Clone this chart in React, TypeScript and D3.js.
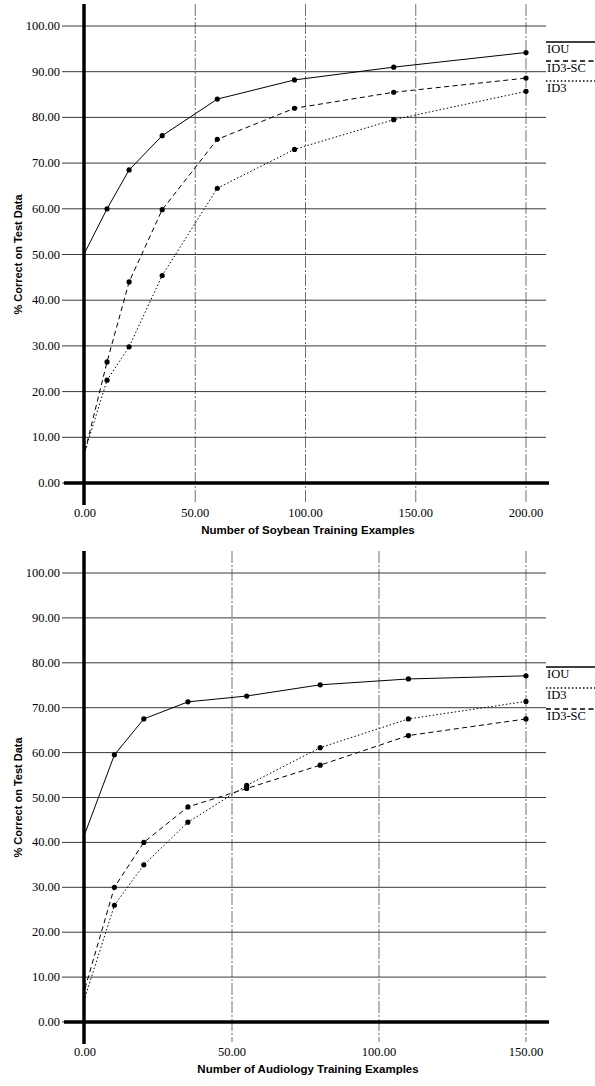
import React from 'react';
import * as d3 from 'd3';

// Soybean (top chart)
const soyX = [0, 10, 20, 35, 60, 95, 140, 200];
const soyIOU = [50.5, 60, 68.5, 76, 84, 88.2, 91, 94.2];
const soyID3SC = [7, 26.5, 44, 59.8, 75.2, 82, 85.5, 88.6];
const soyID3 = [7, 22.5, 29.8, 45.4, 64.5, 73, 79.5, 85.7];
const soyXTicks = [0, 50, 100, 150, 200];

// Audiology (bottom chart)
const audX = [0, 10, 20, 35, 55, 80, 110, 150];
const audIOU = [42, 59.5, 67.5, 71.3, 72.6, 75.1, 76.4, 77.1];
const audID3 = [5.5, 26, 35, 44.5, 52.7, 61.1, 67.5, 71.4];
const audID3SC = [7.5, 30, 40, 47.9, 52, 57.2, 63.8, 67.5];
const audXTicks = [0, 50, 100, 150];

const yTicks = [0, 10, 20, 30, 40, 50, 60, 70, 80, 90, 100];

const styles: Record<string, string | undefined> = {
  IOU: undefined,
  'ID3-SC': '5,3.5',
  ID3: '1.5,2.2',
};

type Series = { name: string; values: number[] };

function Chart({ xs, series, xMax, xTicks, top, bottom, xTitle, legend }: {
  xs: number[]; series: Series[]; xMax: number; xTicks: number[];
  top: number; bottom: number; xTitle: string; legend: { name: string; y: number }[];
}) {
  const x = d3.scaleLinear().domain([0, xMax]).range([85, 526]);
  const y = d3.scaleLinear().domain([0, 100]).range([bottom, top]);
  const line = d3.line<number>().x((_, i) => x(xs[i])).y(d => y(d));
  const serif = '"Liberation Serif", "Times New Roman", serif';
  const sans = '"Liberation Sans", Arial, sans-serif';

  return (
    <g>
      {/* horizontal grid */}
      {yTicks.map(t => (
        <g key={t}>
          <line x1={62} x2={546} y1={y(t)} y2={y(t)} stroke="#222" strokeWidth={0.9} />
          <text x={60} y={y(t) + 4} textAnchor="end" fontFamily={serif} fontSize={12.5}>{t.toFixed(2)}</text>
        </g>
      ))}
      {/* vertical grid */}
      {xTicks.map(t => (
        <g key={t}>
          {t > 0 && <line x1={x(t)} x2={x(t)} y1={top - 22} y2={bottom + 20} stroke="#333" strokeWidth={0.7} strokeDasharray="12,2,2,2" />}
          <text x={x(t)} y={bottom + 34} textAnchor="middle" fontFamily={serif} fontSize={12.5}>{t.toFixed(2)}</text>
        </g>
      ))}
      {/* axes */}
      <line x1={84} x2={84} y1={top - 22} y2={bottom + 22} stroke="#000" strokeWidth={3.5} />
      <line x1={64} x2={549} y1={bottom} y2={bottom} stroke="#000" strokeWidth={3.5} />

      {series.map(s => (
        <g key={s.name}>
          <path d={line(s.values) ?? ''} fill="none" stroke="#000" strokeWidth={1} strokeDasharray={styles[s.name]} />
          {s.values.slice(1).map((v, i) => (
            <circle key={i} cx={x(xs[i + 1])} cy={y(v)} r={2.6} fill="#000" />
          ))}
        </g>
      ))}

      {/* legend */}
      {legend.map(l => (
        <g key={l.name}>
          <line x1={546} x2={595} y1={l.y} y2={l.y} stroke="#000" strokeWidth={1.3} strokeDasharray={styles[l.name]} />
          <text x={547} y={l.y + 11} fontFamily={serif} fontSize={12.5}>{l.name}</text>
        </g>
      ))}

      <text x={308} y={bottom + 51} textAnchor="middle" fontFamily={sans} fontWeight="bold" fontSize={11.5}>{xTitle}</text>
      <text transform={`translate(22, ${(top + bottom) / 2}) rotate(-90)`} textAnchor="middle" fontFamily={sans} fontWeight="bold" fontSize={11}>
        % Correct on Test Data
      </text>
    </g>
  );
}

export default function App() {
  return (
    <svg width={595} height={1086} style={{ position: 'absolute', left: 0, top: 0, background: '#fff' }}>
      <rect width={595} height={1086} fill="#fff" />
      <Chart
        xs={soyX}
        xMax={200}
        xTicks={soyXTicks}
        top={26}
        bottom={483}
        xTitle="Number of Soybean Training Examples"
        series={[
          { name: 'IOU', values: soyIOU },
          { name: 'ID3-SC', values: soyID3SC },
          { name: 'ID3', values: soyID3 },
        ]}
        legend={[{ name: 'IOU', y: 42 }, { name: 'ID3-SC', y: 61 }, { name: 'ID3', y: 81 }]}
      />
      <Chart
        xs={audX}
        xMax={150}
        xTicks={audXTicks}
        top={573}
        bottom={1022}
        xTitle="Number of Audiology Training Examples"
        series={[
          { name: 'IOU', values: audIOU },
          { name: 'ID3', values: audID3 },
          { name: 'ID3-SC', values: audID3SC },
        ]}
        legend={[{ name: 'IOU', y: 667 }, { name: 'ID3', y: 688 }, { name: 'ID3-SC', y: 709 }]}
      />
    </svg>
  );
}
